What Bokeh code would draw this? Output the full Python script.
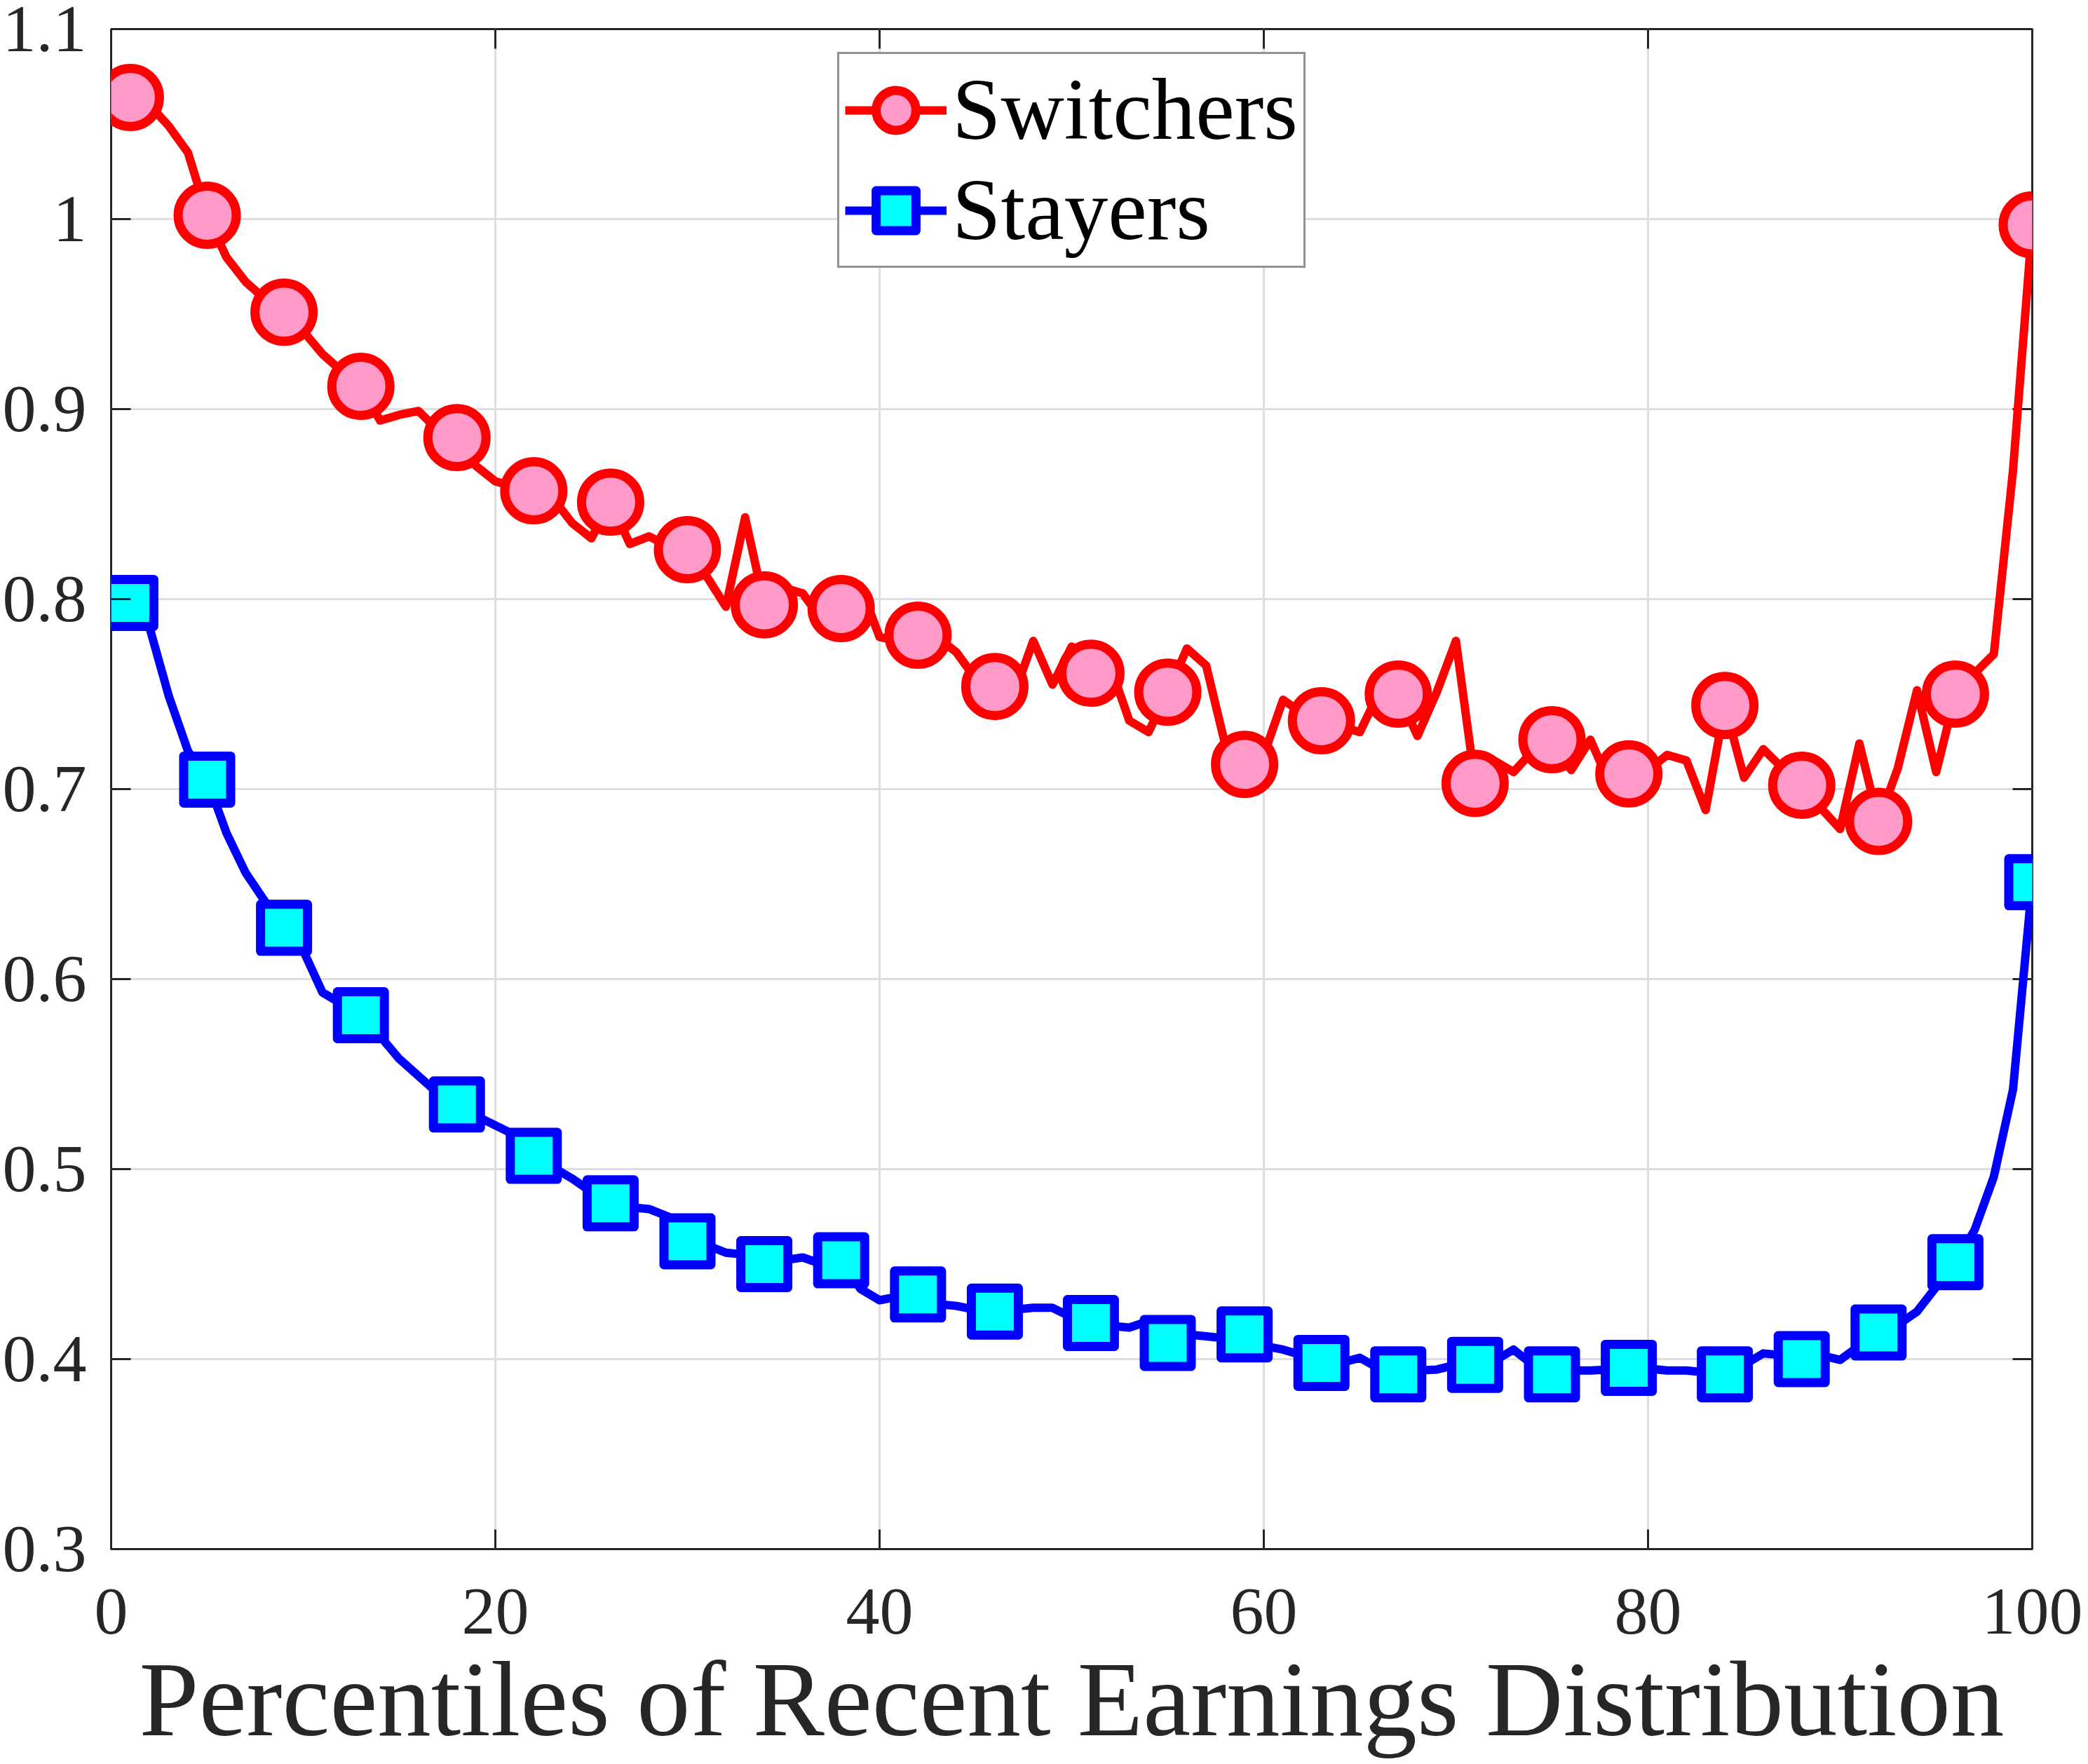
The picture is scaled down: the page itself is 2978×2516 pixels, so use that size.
from math import pi
from bokeh.plotting import figure
from bokeh.models import FixedTicker, Range1d, Legend, LegendItem
from bokeh.embed import file_html
from bokeh.resources import INLINE

# ---------------- data ----------------
percentiles = list(range(1, 101))

switchers = [
    1.064, 1.060, 1.049, 1.035, 1.002, 0.980, 0.967, 0.958, 0.951, 0.941,
    0.929, 0.920, 0.912, 0.894, 0.897, 0.899, 0.889, 0.885, 0.870, 0.862,
    0.859, 0.857, 0.853, 0.840, 0.832, 0.851, 0.829, 0.833, 0.828, 0.826,
    0.812, 0.796, 0.843, 0.797, 0.806, 0.803, 0.789, 0.795, 0.807, 0.780,
    0.778, 0.781, 0.780, 0.772, 0.758, 0.754, 0.750, 0.778, 0.755, 0.775,
    0.761, 0.765, 0.736, 0.730, 0.751, 0.774, 0.765, 0.723, 0.713, 0.718,
    0.747, 0.740, 0.736, 0.733, 0.730, 0.751, 0.750, 0.728, 0.751, 0.778,
    0.703, 0.715, 0.709, 0.720, 0.726, 0.710, 0.726, 0.703, 0.708, 0.710,
    0.718, 0.715, 0.689, 0.744, 0.706, 0.721, 0.711, 0.702, 0.690, 0.679,
    0.724, 0.683, 0.711, 0.752, 0.709, 0.750, 0.761, 0.771, 0.868, 0.997,
]

stayers = [
    0.798, 0.785, 0.749, 0.720, 0.705, 0.677, 0.656, 0.641, 0.627, 0.615,
    0.593, 0.587, 0.581, 0.570, 0.558, 0.549, 0.540, 0.534, 0.528, 0.523,
    0.518, 0.507, 0.501, 0.495, 0.488, 0.482, 0.480, 0.479, 0.475, 0.462,
    0.460, 0.456, 0.455, 0.450, 0.452, 0.4535, 0.450, 0.452, 0.437, 0.431,
    0.433, 0.434, 0.429, 0.428, 0.426, 0.425, 0.426, 0.427, 0.427, 0.422,
    0.419, 0.4175, 0.4166, 0.420, 0.4085, 0.413, 0.412, 0.411, 0.413, 0.407,
    0.405, 0.402, 0.398, 0.398, 0.4007, 0.395, 0.392, 0.394, 0.3945, 0.397,
    0.397, 0.399, 0.405, 0.397, 0.392, 0.394, 0.394, 0.3945, 0.3954, 0.395,
    0.394, 0.394, 0.393, 0.392, 0.397, 0.403, 0.402, 0.400, 0.402, 0.3996,
    0.407, 0.414, 0.418, 0.425, 0.438, 0.451, 0.468, 0.496, 0.542, 0.651,
]

marker_idx = [1, 5, 9, 13, 18, 22, 26, 30, 34, 38, 42, 46, 51, 55, 59,
              63, 67, 71, 75, 79, 84, 88, 92, 96, 100]

series_names = ["Switchers", "Stayers"]

x_lim = (0, 100)
y_lim = (0.3, 1.1)
x_ticks = [0, 20, 40, 60, 80, 100]
x_tick_labels = ["0", "20", "40", "60", "80", "100"]
y_ticks = [0.3, 0.4, 0.5, 0.6, 0.7, 0.8, 0.9, 1.0, 1.1]
y_tick_labels = ["0.3", "0.4", "0.5", "0.6", "0.7", "0.8", "0.9", "1", "1.1"]

x_title = "Percentiles of Recent Earnings Distribution"

# ---------------- styling ----------------
FONT = "Liberation Serif"
AX = "#262626"
GRID = "#dedede"
TICK_LEN = 28

p = figure(frame_width=2740, frame_height=2168,
           x_range=Range1d(*x_lim), y_range=Range1d(*y_lim),
           output_backend="svg", toolbar_location=None,
           min_border_left=150, min_border_right=72,
           min_border_top=41, min_border_bottom=200)

p.background_fill_color = "white"
p.border_fill_color = "white"
p.outline_line_color = AX
p.outline_line_width = 3

p.xgrid.ticker = FixedTicker(ticks=x_ticks)
p.ygrid.ticker = FixedTicker(ticks=y_ticks)
for g in (p.xgrid[0], p.ygrid[0]):
    g.grid_line_color = GRID
    g.grid_line_width = 3

xa = p.xaxis[0]
xa.ticker = FixedTicker(ticks=x_ticks)
xa.major_label_overrides = {t: l for t, l in zip(x_ticks, x_tick_labels)}
ya = p.yaxis[0]
ya.ticker = FixedTicker(ticks=y_ticks)
ya.major_label_overrides = {t: l for t, l in zip(y_ticks, y_tick_labels)}

for ax in (xa, ya):
    ax.axis_line_color = None
    ax.major_tick_in = TICK_LEN
    ax.major_tick_out = 0
    ax.major_tick_line_color = AX
    ax.major_tick_line_width = 3
    ax.minor_tick_line_color = None
    ax.major_label_text_font = FONT
    ax.major_label_text_font_size = "96px"
    ax.major_label_text_color = AX
xa.major_label_standoff = 57
ya.major_label_standoff = 35

xa.axis_label = x_title
xa.axis_label_text_font = FONT
xa.axis_label_text_font_size = "153px"
xa.axis_label_text_font_style = "normal"
xa.axis_label_text_color = AX
xa.axis_label_standoff = 6

# mirrored inward ticks on the top and right edges of the box
p.ray(x=x_ticks, y=[y_lim[1]] * len(x_ticks), length=TICK_LEN,
      length_units="screen", angle=-pi / 2, line_color=AX, line_width=3)
p.ray(x=[x_lim[1]] * len(y_ticks), y=y_ticks, length=TICK_LEN,
      length_units="screen", angle=pi, line_color=AX, line_width=3)

# ---------------- glyphs ----------------
sw_mx = [percentiles[i - 1] for i in marker_idx]
sw_my = [switchers[i - 1] for i in marker_idx]
st_mx = [percentiles[i - 1] for i in marker_idx]
st_my = [stayers[i - 1] for i in marker_idx]

r1l = p.line(percentiles, switchers, line_color="#FF0000", line_width=12,
             line_join="round")
r1m = p.scatter(sw_mx, sw_my, marker="circle", size=83,
                fill_color="#FF99C8", line_color="#FF0000", line_width=13)
r2l = p.line(percentiles, stayers, line_color="#0000FF", line_width=12,
             line_join="round")
r2m = p.scatter(st_mx, st_my, marker="square", size=67,
                fill_color="#00FFFF", line_color="#0000FF", line_width=13,
                line_join="round")

legend = Legend(items=[LegendItem(label=series_names[0], renderers=[r1l, r1m]),
                       LegendItem(label=series_names[1], renderers=[r2l, r2m])],
                location="top_center", margin=33,
                label_text_font=FONT, label_text_font_size="125px",
                label_text_color="black",
                glyph_width=145, glyph_height=142, label_standoff=8,
                padding=8, spacing=0,
                border_line_color=AX, border_line_width=3,
                background_fill_color="white", background_fill_alpha=1.0)
p.add_layout(legend)

open("out.html", "w").write(file_html(p, INLINE))
